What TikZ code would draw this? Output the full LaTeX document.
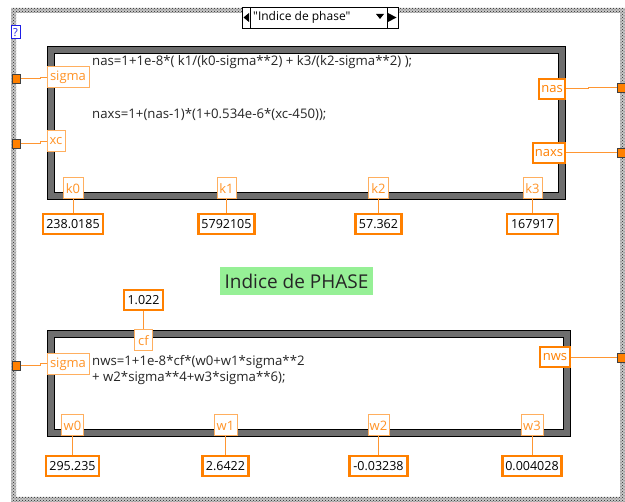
\documentclass[tikz,border=0pt]{standalone}
\usepackage{fontspec}
\setmainfont{Open Sans}
\usetikzlibrary{patterns}

\definecolor{lvorange}{RGB}{255,128,0}
\definecolor{lvlight}{RGB}{255,175,95}
\definecolor{lvwire}{RGB}{255,150,50}
\definecolor{lvgray}{RGB}{110,110,110}
\definecolor{lvgreen}{RGB}{150,240,150}
\definecolor{lvblue}{RGB}{30,30,230}

\begin{document}
\begin{tikzpicture}[x=1pt,y=-1pt,
            wire/.style={lvwire,line width=1pt},
            in term/.style={draw=lvlight,line width=1pt,fill=white,text=lvorange!85!white,
                            inner sep=0pt,minimum height=21pt,font=\fontsize{13}{15}\selectfont},
            out term/.style={draw=lvorange,line width=2pt,fill=white,text=lvorange,
                            inner sep=0pt,minimum height=20pt,font=\fontsize{13}{15}\selectfont},
            const/.style={draw=lvorange,line width=2.5pt,fill=white,text=black,
                            inner sep=0pt,minimum height=20pt,font=\fontsize{12.5}{15}\selectfont},
            tunnel/.style={draw=black!75,fill=lvorange,line width=0.6pt,inner sep=0pt,
                            minimum width=8pt,minimum height=9pt},
            formula/.style={anchor=west,inner sep=0pt,align=left,text=black!85,
                            font=\fontsize{13.2}{16}\selectfont},
            frame/.style={draw=black,line width=0.8pt},
            font=\fontsize{12}{15}\selectfont
         ]
      \useasboundingbox (0,0) rectangle (625,502);
      \fill[white] (0,0) rectangle (625,502);

      % case structure border
      \fill[gray!45,even odd rule] (11,8) rectangle (625,502) (16,13) rectangle (620,497);
      \fill[pattern=crosshatch dots,pattern color=black!85,even odd rule]
         (11,8) rectangle (625,502) (16,13) rectangle (620,497);

      % selector
      \draw[fill=white,line width=0.8pt] (242,7) rectangle (398,28);
      \draw[line width=0.8pt] (250,7) -- (250,28) (387,7) -- (387,28);
      \fill (243.5,17.5) -- (249,13) -- (249,22) -- cycle;
      \fill (396.5,17.5) -- (388,13) -- (388,22) -- cycle;
      \fill (376,14) -- (384,14) -- (380,19) -- cycle;
      \node[anchor=west,inner sep=0pt] (selname) at (253,17.5)
         {\textquotedbl Indice de phase\textquotedbl};
      \node[draw=lvblue,line width=1pt,text=lvblue,fill=white,inner sep=0pt,
            minimum width=9pt,minimum height=13pt,font=\fontsize{11}{12}\selectfont]
            (selq) at (15.5,32.5) {?};

      % upper formula node
      \draw[frame,fill=lvgray] (47,46) rectangle (565,199);
      \draw[frame,fill=white] (54,53) rectangle (558,192);
      \node[formula] (eq1) at (92,62) {nas=1+1e-8*( k1/(k0-sigma**2) + k3/(k2-sigma**2) );};
      \node[formula] (eq2) at (92,115) {naxs=1+(nas-1)*(1+0.534e-6*(xc-450));};

      \node[in term,minimum width=42pt] (sig1) at (68,77.5) {sigma};
      \node[in term,minimum width=18pt] (xc) at (56,141.5) {xc};
      \node[out term,minimum width=26pt] (nas) at (552,89) {nas};
      \node[out term,minimum width=32pt] (naxs) at (549,153) {naxs};
      \node[in term,minimum width=20pt] (k0) at (73,188.5) {k0};
      \node[in term,minimum width=19pt] (k1) at (226.5,188.5) {k1};
      \node[in term,minimum width=20pt] (k2) at (378.5,188.5) {k2};
      \node[in term,minimum width=19pt] (k3) at (532.5,188.5) {k3};

      \node[const,minimum width=60pt] (ck0) at (73,224) {238.0185};
      \node[const,minimum width=56pt] (ck1) at (226.5,224) {5792105};
      \node[const,minimum width=46pt] (ck2) at (378.5,224) {57.362};
      \node[const,minimum width=51pt] (ck3) at (532.5,224) {167917};

      \node[tunnel] (tsig1) at (16.5,78.5) {};
      \node[tunnel] (txc) at (16.5,143.5) {};
      \node[tunnel] (tnas) at (621,88) {};
      \node[tunnel] (tnaxs) at (621,152.5) {};

      \draw[wire] (tsig1.east) -- ++(20,0) |- (sig1.west);
      \draw[wire] (txc.east) -- ++(20,0) |- (xc.west);
      \draw[wire] (nas.east) -- ++(22,0) |- (tnas.west);
      \draw[wire] (naxs.east) -- ++(22,0) |- (tnaxs.west);
      \foreach \k in {k0,k1,k2,k3}
         \draw[wire] (c\k) -- (\k);

      % label
      \node[fill=lvgreen,minimum width=153pt,minimum height=28pt,inner sep=0pt,
            text=black!85,font=\fontsize{19}{22}\selectfont] (title) at (296.5,281) {Indice de PHASE};

      % lower formula node
      \draw[frame,fill=lvgray] (47,330) rectangle (570,436);
      \draw[frame,fill=white] (54,337) rectangle (563,429);
      \node[formula] (eq3) at (92,370)
         {nws=1+1e-8*cf*(w0+w1*sigma**2\\+ w2*sigma**4+w3*sigma**6);};

      \node[in term,minimum width=18pt] (cf) at (143.5,340.5) {cf};
      \node[in term,minimum width=42pt] (sig2) at (68,364) {sigma};
      \node[out term,minimum width=30pt] (nws) at (555,357.5) {nws};
      \node[in term,minimum width=22pt] (w0) at (72.5,425.5) {w0};
      \node[in term,minimum width=23pt] (w1) at (225.5,425.5) {w1};
      \node[in term,minimum width=21pt] (w2) at (378.5,425.5) {w2};
      \node[in term,minimum width=22pt] (w3) at (532,425.5) {w3};

      \node[const,minimum width=39pt] (ccf) at (143.5,300) {1.022};
      \node[const,minimum width=53pt] (cw0) at (72.5,466) {295.235};
      \node[const,minimum width=46pt] (cw1) at (225.5,466) {2.6422};
      \node[const,minimum width=58pt] (cw2) at (378.5,466) {-0.03238};
      \node[const,minimum width=59pt] (cw3) at (532,466) {0.004028};

      \node[tunnel] (tsig2) at (16.5,365.5) {};
      \node[tunnel] (tnws) at (621,357.5) {};

      \draw[wire] (tsig2.east) -- ++(20,0) |- (sig2.west);
      \draw[wire] (nws.east) -- ++(22,0) |- (tnws.west);
      \draw[wire] (ccf) -- (cf);
      \foreach \w in {w0,w1,w2,w3}
         \draw[wire] (c\w) -- (\w);

   \end{tikzpicture}
\end{document}
